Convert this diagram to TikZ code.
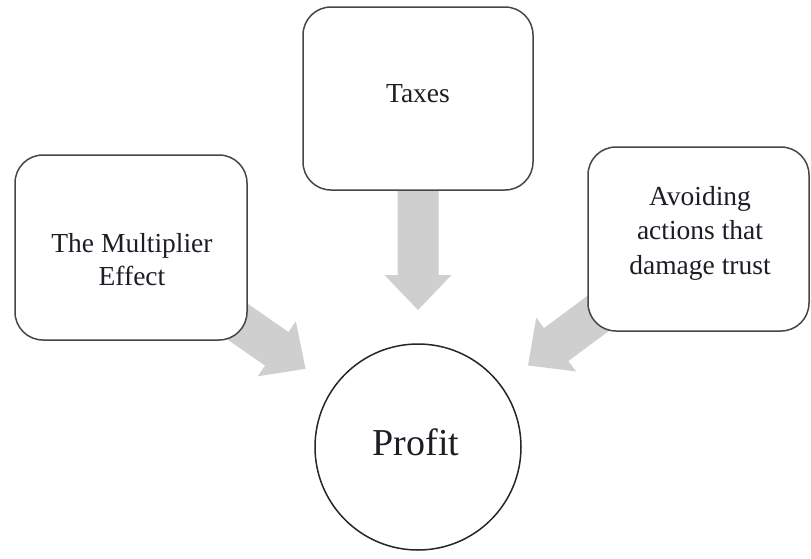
\documentclass[tikz,border=0pt]{standalone}
\usepackage{fontspec}
\setmainfont{Liberation Serif}
\usetikzlibrary{calc}
\pgfdeclarelayer{background}
\pgfsetlayers{background,main}
\definecolor{arrowgrey}{RGB}{207,207,207}
\definecolor{frameline}{RGB}{70,70,70}
\definecolor{inkdark}{RGB}{30,28,36}
\tikzset{
  factorbox/.style={draw=frameline, line width=1.5pt, rounded corners=28pt, fill=white, inner sep=0pt},
  resultcircle/.style={circle, draw=black!85, line width=1.5pt, fill=white, inner sep=0pt, minimum size=206pt},
  boxlabel/.style={font=\fontsize{27.5}{33}\selectfont, text=inkdark, align=center, inner sep=0pt},
  widelabel/.style={boxlabel, font=\fontsize{27.5}{34.5}\selectfont},
  biglabel/.style={font=\fontsize{38}{44}\selectfont, text=inkdark, inner sep=0pt},
  blockarrow/.style={fill=arrowgrey},
}
% Wide grey arrow running from the centre of a source node towards a target
% node; it stops 137pt short of the target's centre.
% #1 source node, #2 target node, #3 prefix for the helper coordinates
\newcommand{\factorarrow}[3]{%
  \coordinate (#3tip) at ($(#2.center)!137pt!(#1.center)$);
  \coordinate (#3base) at ($(#3tip)!35pt!(#1.center)$);
  \fill[blockarrow] (#3tip)
    -- ($(#3base)!33.5pt!90:(#3tip)$)
    -- ($(#3base)!20.5pt!90:(#3tip)$)
    -- ($(#1.center)!20.5pt!90:(#3tip)$)
    -- ($(#1.center)!20.5pt!-90:(#3tip)$)
    -- ($(#3base)!20.5pt!-90:(#3tip)$)
    -- ($(#3base)!33.5pt!-90:(#3tip)$)
    -- cycle;
}
\begin{document}
\begin{tikzpicture}[x=1pt,y=-1pt]
\useasboundingbox (0,0) rectangle (811,558);

% the three factors and the result
\node[factorbox, minimum width=232pt, minimum height=185pt] (multiplier) at (131,247.5) {};
\node[factorbox, minimum width=230pt, minimum height=183pt] (taxes) at (418,98.5) {};
\node[factorbox, minimum width=221pt, minimum height=184pt] (trust) at (698.5,239) {};
\node[resultcircle] (profit) at (418,447) {};

% labels
\node[boxlabel] (multipliertext) at (132,260) {The Multiplier\\Effect};
\node[boxlabel, anchor=base] (taxestext) at (418,102) {Taxes};
\node[widelabel] (trusttext) at (700,233) {Avoiding\\actions that\\damage trust};
\node[biglabel, anchor=base] (profittext) at (416,455) {Profit};

% arrows sit behind the boxes
\begin{pgfonlayer}{background}
  \factorarrow{multiplier}{profit}{left}
  \factorarrow{taxes}{profit}{mid}
  \factorarrow{trust}{profit}{right}
\end{pgfonlayer}
\end{tikzpicture}
\end{document}
